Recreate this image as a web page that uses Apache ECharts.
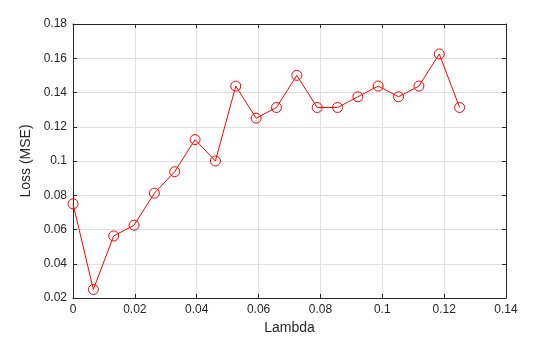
<!DOCTYPE html>
<html>
<head>
<meta charset="utf-8">
<script src="https://cdn.jsdelivr.net/npm/echarts@6/dist/echarts.min.js"></script>
<style>html,body{margin:0;padding:0;background:#fff;overflow:hidden;}#c{width:560px;height:337px;display:block;}</style>
</head>
<body>
<div id="c"></div>
<script>
const lambdaValues = [0, 0.00658, 0.01316, 0.01974, 0.02632, 0.03289, 0.03947, 0.04605, 0.05263, 0.05921, 0.06579, 0.07237, 0.07895, 0.08553, 0.09211, 0.09868, 0.10526, 0.11184, 0.11842, 0.125];
const lossValues = [0.075, 0.025, 0.05625, 0.0625, 0.08125, 0.09375, 0.1125, 0.1, 0.14375, 0.125, 0.13125, 0.15, 0.13125, 0.13125, 0.1375, 0.14375, 0.1375, 0.14375, 0.1625, 0.13125];
const xTicks = [0, 0.02, 0.04, 0.06, 0.08, 0.1, 0.12, 0.14];
const yTicks = [0.02, 0.04, 0.06, 0.08, 0.1, 0.12, 0.14, 0.16, 0.18];

const fmt = v => String(Math.round(v * 1000) / 1000);
const textColor = '#262626';
const font = 'Liberation Sans, Arial, Helvetica, sans-serif';

const chart = echarts.init(document.getElementById('c'), null, {renderer: 'canvas', width: 560, height: 337});
const baseX = {
  type: 'value', min: xTicks[0], max: xTicks[xTicks.length - 1], interval: 0.02,
  axisLine: {show: true, onZero: false, lineStyle: {color: textColor, width: 1}},
  axisTick: {show: true, inside: true, length: 4, lineStyle: {color: textColor}},
};
const baseY = {
  type: 'value', min: yTicks[0], max: yTicks[yTicks.length - 1], interval: 0.02,
  axisLine: {show: true, onZero: false, lineStyle: {color: textColor, width: 1}},
  axisTick: {show: true, inside: true, length: 4, lineStyle: {color: textColor}},
};
chart.setOption({
  animation: false,
  backgroundColor: '#ffffff',
  grid: {left: 73, right: 54, top: 24, bottom: 39, containLabel: false, outerBoundsMode: 'none'},
  xAxis: [
    Object.assign({}, baseX, {
      position: 'bottom',
      name: 'Lambda', nameLocation: 'middle', nameGap: 22,
      nameTextStyle: {color: textColor, fontSize: 14, fontFamily: font},
      axisLabel: {color: textColor, fontSize: 12, fontFamily: font, margin: 6, formatter: v => fmt(v)},
      splitLine: {show: true, lineStyle: {color: '#dedede', width: 1}}
    }),
    Object.assign({}, baseX, {
      position: 'top', axisLabel: {show: false}, splitLine: {show: false}
    })
  ],
  yAxis: [
    Object.assign({}, baseY, {
      position: 'left',
      name: 'Loss (MSE)', nameLocation: 'middle', nameGap: 34, nameRotate: 90,
      nameTextStyle: {color: textColor, fontSize: 14, fontFamily: font},
      axisLabel: {color: textColor, fontSize: 12, fontFamily: font, margin: 6, formatter: v => fmt(v)},
      splitLine: {show: true, lineStyle: {color: '#dedede', width: 1}}
    }),
    Object.assign({}, baseY, {
      position: 'right', axisLabel: {show: false}, splitLine: {show: false}
    })
  ],
  series: [{
    type: 'line',
    data: lambdaValues.map((x, i) => [x, lossValues[i]]),
    symbol: 'circle', symbolSize: 10,
    itemStyle: {color: 'rgba(0,0,0,0)', borderColor: '#ff0000', borderWidth: 1},
    lineStyle: {color: '#ff0000', width: 1},
    emphasis: {disabled: true}
  }]
});
</script>
</body>
</html>
